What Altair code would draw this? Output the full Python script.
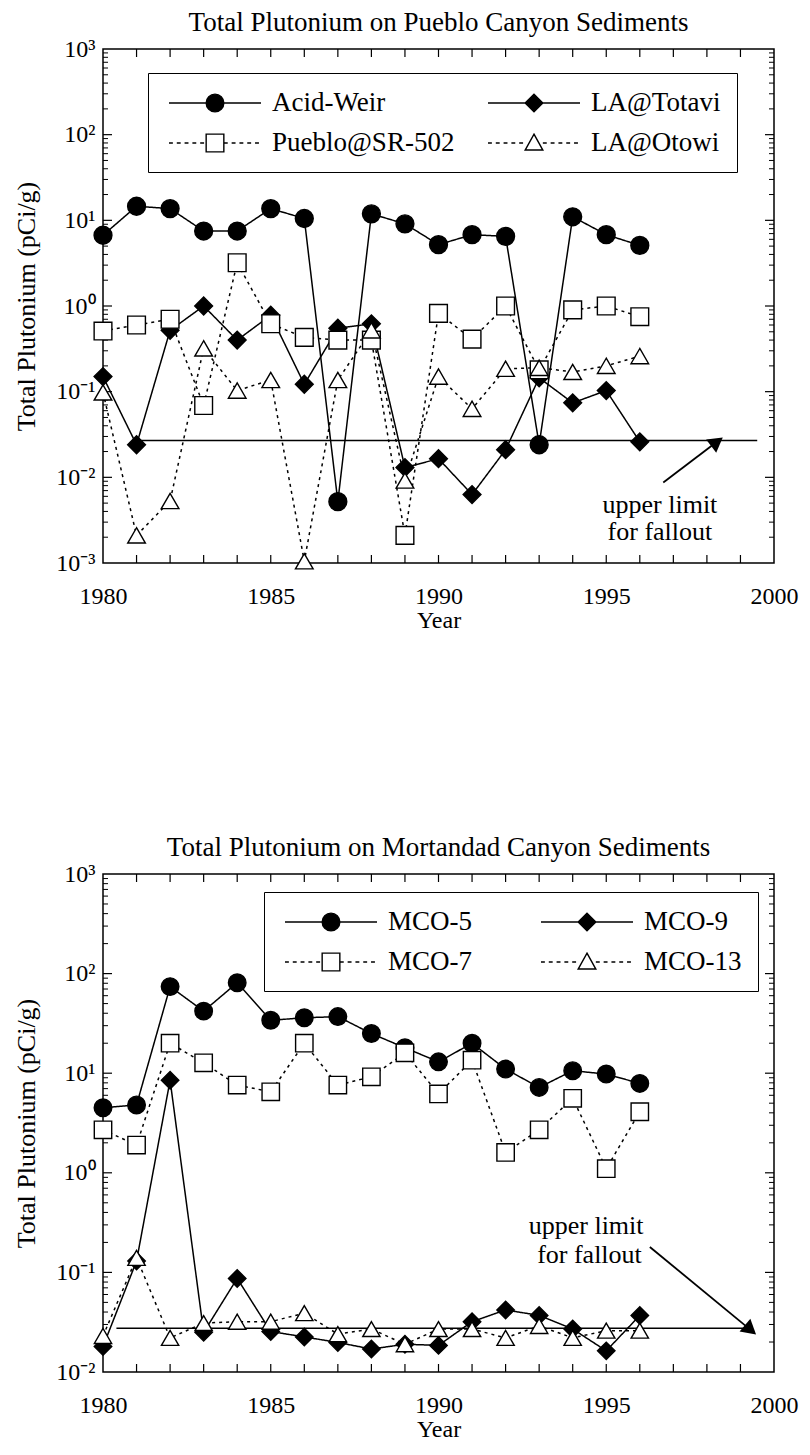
import altair as alt
import pandas as pd
import math

years = list(range(1980, 1997))

# ---- Pueblo Canyon ----
pueblo_names = ["Acid-Weir", "LA@Totavi", "Pueblo@SR-502", "LA@Otowi"]
acid_weir = [6.7, 14.6, 13.7, 7.5, 7.5, 13.7, 10.5, 0.0052, 11.9, 9.1, 5.2, 6.8, 6.5, 0.024, 11.0, 6.8, 5.1]
la_totavi = [0.15, 0.024, 0.52, 1.0, 0.40, 0.78, 0.122, 0.55, 0.62, 0.013, 0.0165, 0.0063, 0.021, 0.145, 0.074, 0.103, 0.026]
pueblo_sr502 = [0.51, 0.60, 0.70, 0.069, 3.2, 0.62, 0.43, 0.40, 0.40, 0.0021, 0.82, 0.41, 1.0, 0.18, 0.90, 1.0, 0.75]
la_otowi = [0.098, 0.0021, 0.0053, 0.32, 0.103, 0.137, 0.00105, 0.137, 0.52, 0.0092, 0.15, 0.063, 0.185, 0.19, 0.17, 0.2, 0.26]

# ---- Mortandad Canyon ----
mort_names = ["MCO-5", "MCO-9", "MCO-7", "MCO-13"]
mco5 = [4.5, 4.8, 74, 42, 81, 34, 36, 37, 25, 18, 13, 20, 11, 7.2, 10.6, 9.8, 7.9]
mco9 = [0.018, 0.13, 8.5, 0.025, 0.087, 0.0255, 0.0225, 0.0198, 0.017, 0.019, 0.0185, 0.032, 0.042, 0.037, 0.027, 0.0163, 0.037]
mco7 = [2.7, 1.9, 20, 12.7, 7.6, 6.5, 20, 7.6, 9.2, 16, 6.2, 13.5, 1.6, 2.7, 5.6, 1.1, 4.1]
mco13 = [0.023, 0.14, 0.022, 0.031, 0.032, 0.032, 0.039, 0.024, 0.027, 0.019, 0.027, 0.027, 0.022, 0.029, 0.022, 0.026, 0.026]

# fallout limit lines and annotations
pueblo_fallout = {"year": [1981.0], "year2": [1999.5], "value": [0.027]}
pueblo_arrow = {"year": [1996.7], "year2": [1998.3], "value": [0.0087], "value2": [0.026]}
pueblo_note = {"year": [1996.6, 1996.6], "value": [0.0048, 0.0023], "label": ["upper limit", "for fallout"]}

mort_fallout = {"year": [1980.4], "year2": [1999.3], "value": [0.0275]}
mort_arrow = {"year": [1996.3], "year2": [1999.3], "value": [0.18], "value2": [0.0265]}
mort_note = {"year": [1994.4, 1994.5], "value": [0.29, 0.15], "label": ["upper limit", "for fallout"]}

x_labels = [1980, 1985, 1990, 1995, 2000]

FONT = "Liberation Serif"
W = 671


def dash_segments(x0, x1, dash=0.3, gap=0.3):
    parts = []
    x = x0
    while x < x1 - 1e-6:
        e = min(x + dash, x1)
        parts.append(f"M{x:.3f},0L{e:.3f},0")
        x = e + gap
    return "".join(parts)


def legend_path(marker, dashed):
    half = 3.54
    r = 0.68
    if dashed:
        line = dash_segments(-half, -r) + dash_segments(r, half)
    else:
        line = f"M{-half},0L{-r},0M{r},0L{half},0"
    if marker == "circle":
        m = f"M{r},0A{r},{r} 0 1,1 {-r},0A{r},{r} 0 1,1 {r},0Z"
    elif marker == "diamond":
        m = f"M0,{-r}L{r},0L0,{r}L{-r},0Z"
    elif marker == "square":
        m = f"M{-r},{-r}L{r},{-r}L{r},{r}L{-r},{r}Z"
    else:
        m = f"M0,{-r}L{r},{r*0.8}L{-r},{r*0.8}Z"
    return line + m


def panel(title, names, series, ydom, H, leg_xy, col_pad, fallout, arrow, arrow_angle, note):
    rows = []
    for n, vals in zip(names, series):
        for yr, v in zip(years, vals):
            rows.append({"series": n, "year": yr, "value": v})
    df = pd.DataFrame(rows)

    lo, hi = ydom
    e0, e1 = int(round(math.log10(lo))), int(round(math.log10(hi)))
    decades = [10.0 ** e for e in range(e0, e1 + 1)]
    minors = [m * 10.0 ** e for e in range(e0, e1) for m in range(2, 10)]

    xs = alt.Scale(domain=[1980, 2000], nice=False, zero=False)
    ys = alt.Scale(type="log", domain=[lo, hi], nice=False)

    ex = "round(log(datum.value)/LN10)"
    label_expr = (f"'10' + ({ex} < 0 ? '\u207b' : '') + "
                  f"(abs({ex}) == 0 ? '\u2070' : abs({ex}) == 1 ? '\u00b9' : "
                  f"abs({ex}) == 2 ? '\u00b2' : '\u00b3')")

    X = alt.X("year:Q", scale=xs,
              axis=alt.Axis(values=x_labels, format="d", title="Year", ticks=False, domain=False,
                            grid=False, labelPadding=21, titlePadding=0, labelFlush=False))
    Y = alt.Y("value:Q", scale=ys,
              axis=alt.Axis(values=decades, labelExpr=label_expr, title="Total Plutonium (pCi/g)",
                            ticks=False, domain=False, grid=False, labelPadding=8, titlePadding=16,
                            labelFlush=False))

    dash_range = [[1, 0], [1, 0], [3, 4], [3, 4]]
    lines = alt.Chart(df).mark_line(color="black", strokeWidth=1.5).encode(
        x=X, y=Y, detail="series:N",
        strokeDash=alt.StrokeDash("series:N", scale=alt.Scale(domain=names, range=dash_range), legend=None),
    )

    shapes = ["circle", "diamond", "square", "triangle-up"]
    fills = ["black", "black", "white", "white"]
    sizes = [320, 300, 290, 300]
    points = alt.Chart(df).mark_point(filled=True, stroke="black", strokeWidth=1.4, opacity=1).encode(
        x="year:Q", y="value:Q",
        shape=alt.Shape("series:N", scale=alt.Scale(domain=names, range=shapes), legend=None),
        fill=alt.Fill("series:N", scale=alt.Scale(domain=names, range=fills), legend=None),
        size=alt.Size("series:N", scale=alt.Scale(domain=names, range=sizes), legend=None),
    )

    # legend (driven by scale domain only)
    legend_shapes = [legend_path("circle", False), legend_path("diamond", False),
                     legend_path("square", True), legend_path("triangle", True)]
    leg = alt.Legend(orient="none", legendX=leg_xy[0], legendY=leg_xy[1], columns=2, direction="horizontal",
                     title=None, strokeColor="black", fillColor="white", padding=16,
                     labelFont=FONT, labelFontSize=27, labelLimit=400, labelColor="black",
                     symbolSize=676, symbolStrokeWidth=1.4, symbolStrokeColor="black",
                     symbolOffset=37, labelOffset=43, rowPadding=13, columnPadding=col_pad)
    legend_layer = alt.Chart(df).mark_point(filled=True, strokeWidth=1.4, opacity=1).encode(
        shape=alt.Shape("series:N", scale=alt.Scale(domain=names, range=legend_shapes), legend=leg),
        fill=alt.Fill("series:N", scale=alt.Scale(domain=names, range=fills), legend=leg),
        stroke=alt.Stroke("series:N", scale=alt.Scale(domain=names, range=["black"] * 4), legend=leg),
    ).transform_filter("false")

    # frame ticks
    tick_years = pd.DataFrame({"year": list(range(1981, 2000))})
    t_bot = alt.Chart(tick_years).mark_rule(color="black", strokeWidth=1.2).encode(
        x="year:Q", y=alt.value(H), y2=alt.value(H - 8))
    t_top = alt.Chart(tick_years).mark_rule(color="black", strokeWidth=1.2).encode(
        x="year:Q", y=alt.value(0), y2=alt.value(8))
    maj = pd.DataFrame({"value": decades[1:-1]})
    mnr = pd.DataFrame({"value": minors})
    t_l1 = alt.Chart(maj).mark_rule(color="black", strokeWidth=1.2).encode(
        y="value:Q", x=alt.value(0), x2=alt.value(9))
    t_r1 = alt.Chart(maj).mark_rule(color="black", strokeWidth=1.2).encode(
        y="value:Q", x=alt.value(W), x2=alt.value(W - 9))
    t_l2 = alt.Chart(mnr).mark_rule(color="black", strokeWidth=1).encode(
        y="value:Q", x=alt.value(0), x2=alt.value(5))
    t_r2 = alt.Chart(mnr).mark_rule(color="black", strokeWidth=1).encode(
        y="value:Q", x=alt.value(W), x2=alt.value(W - 5))

    fall = alt.Chart(pd.DataFrame(fallout)).mark_rule(color="black", strokeWidth=1.5).encode(
        x="year:Q", x2="year2:Q", y="value:Q")
    arr = alt.Chart(pd.DataFrame(arrow)).mark_rule(color="black", strokeWidth=1.8).encode(
        x="year:Q", x2="year2:Q", y="value:Q", y2="value2:Q")
    head = alt.Chart(pd.DataFrame(arrow)).mark_point(
        shape="triangle-up", filled=True, color="black", size=280, angle=arrow_angle, opacity=1).encode(
        x="year2:Q", y="value2:Q")
    txt = alt.Chart(pd.DataFrame(note)).mark_text(font=FONT, fontSize=26, color="black", align="center").encode(
        x="year:Q", y="value:Q", text="label:N")

    return alt.layer(t_bot, t_top, t_l1, t_r1, t_l2, t_r2, fall, lines, points, arr, head, txt, legend_layer).resolve_scale(
        shape="independent", fill="independent", stroke="independent").properties(
        width=W, height=H, title=alt.TitleParams(title, font=FONT, fontSize=27, fontWeight="normal", offset=0))


top = panel("Total Plutonium on Pueblo Canyon Sediments", pueblo_names,
            [acid_weir, la_totavi, pueblo_sr502, la_otowi], (1e-3, 1e3), 514, (45, 24), 28,
            pueblo_fallout, pueblo_arrow, 53, pueblo_note)
bot = panel("Total Plutonium on Mortandad Canyon Sediments", mort_names,
            [mco5, mco9, mco7, mco13], (1e-2, 1e3), 498, (161, 18), 63,
            mort_fallout, mort_arrow, 130, mort_note)

chart = alt.vconcat(top, bot, spacing=200).properties(
    padding={"left": 5, "top": 0, "right": 0, "bottom": 0}
).configure_axis(
    labelFont=FONT, labelFontSize=24, labelColor="black", titleFont=FONT, titleFontSize=24,
    titleFontWeight="normal", titleColor="black"
).configure_axisY(titleFontSize=26).configure_view(stroke="black", strokeWidth=1.5).configure_title(color="black")

chart.save("out.html", embed_options={"renderer": "svg", "actions": False})
